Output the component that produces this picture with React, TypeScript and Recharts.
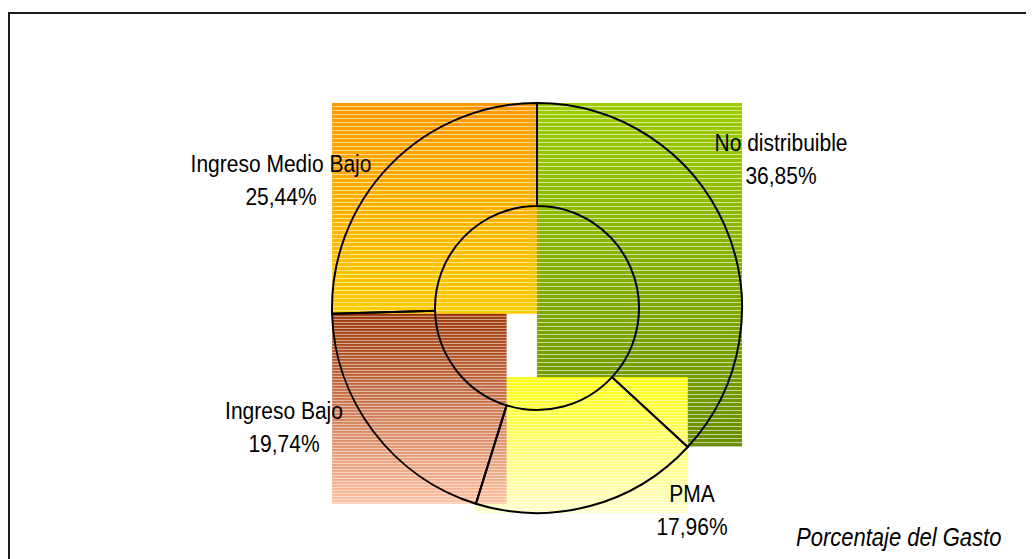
import { PieChart, Pie, Cell } from 'recharts';

const categorias = ['No distribuible', 'PMA', 'Ingreso Bajo', 'Ingreso Medio Bajo'];
const porcentajes = [36.85, 17.96, 19.74, 25.44];

const data = categorias.map((name, i) => ({ name, value: porcentajes[i] }));

// top -> bottom gradient of each slice's striped box
const GRADIENTS = [
  ['#9dcc00', '#6a8f00'],
  ['#ffff00', '#ffffc8'],
  ['#983000', '#ffbe9c'],
  ['#ff9900', '#ffcc00'],
];
const STRIPE_STEP = [4, 3, 3, 4];

// label placement relative to the pie centre (first line baseline)
const LABEL_OFFSETS = [
  [244, -157],
  [155, 194],
  [-253, 111],
  [-256, -136],
];
const LINE_GAP = 33;
const FONT = "'Liberation Sans', Arial, sans-serif";
const TEXT_STRETCH = 1.13;

const W = 1026;
const H = 551;
const CX = 529;
const CY = 300;

const rad = (a: number) => (a * Math.PI) / 180;

function sectorBox(cx: number, cy: number, ri: number, ro: number, a0: number, a1: number) {
  const lo = Math.min(a0, a1);
  const hi = Math.max(a0, a1);
  const pts: [number, number][] = [];
  for (const r of [ri, ro]) {
    for (const a of [lo, hi]) pts.push([cx + r * Math.cos(rad(a)), cy - r * Math.sin(rad(a))]);
  }
  for (let k = Math.ceil(lo / 90) * 90; k <= hi; k += 90) {
    pts.push([cx + ro * Math.cos(rad(k)), cy - ro * Math.sin(rad(k))]);
  }
  const xs = pts.map((p) => p[0]);
  const ys = pts.map((p) => p[1]);
  return { x: Math.min(...xs), y: Math.min(...ys), w: Math.max(...xs) - Math.min(...xs), h: Math.max(...ys) - Math.min(...ys) };
}

// old-style fill: the slice's bounding box, horizontally striped
const StripedBox = (props: any, idx?: number) => {
  const i = typeof props.index === 'number' ? props.index : idx ?? 0;
  const { cx, cy, innerRadius, outerRadius, startAngle, endAngle } = props;
  const b = sectorBox(cx, cy, innerRadius, outerRadius, startAngle, endAngle);
  const [c0, c1] = GRADIENTS[i];
  const step = STRIPE_STEP[i];
  return (
    <g>
      <defs>
        <linearGradient id={`grad-${i}`} x1="0" y1="0" x2="0" y2="1">
          <stop offset="0%" stopColor={c0} />
          <stop offset="100%" stopColor={c1} />
        </linearGradient>
        <pattern id={`stripe-${i}`} width={8} height={step} patternUnits="userSpaceOnUse" y={b.y}>
          <rect x={0} y={step - 1} width={8} height={1} fill="#fff" fillOpacity={0.6} />
        </pattern>
      </defs>
      <rect x={b.x} y={b.y} width={b.w} height={b.h} fill={`url(#grad-${i})`} />
      <rect x={b.x} y={b.y} width={b.w} height={b.h} fill={`url(#stripe-${i})`} />
    </g>
  );
};

const renderLabel = (props: any) => {
  const { cx, cy, index, value } = props;
  const [dx, dy] = LABEL_OFFSETS[index];
  return (
    <g transform={`translate(${cx + dx},${cy + dy}) scale(1,${TEXT_STRETCH})`}>
      <text x={0} y={0} textAnchor="middle" fill="#000" fontSize={21} fontFamily={FONT}>
        <tspan x={0} y={0}>{categorias[index]}</tspan>
        <tspan x={0} y={LINE_GAP / TEXT_STRETCH}>{`${value.toFixed(2).replace('.', ',')}%`}</tspan>
      </text>
    </g>
  );
};

export default function App() {
  return (
    <div style={{ position: 'relative', width: W, height: H }}>
      <PieChart width={W} height={H} margin={{ top: 0, right: 0, bottom: 0, left: 0 }}>
        <Pie
          data={data}
          dataKey="value"
          nameKey="name"
          cx={CX}
          cy={CY}
          innerRadius={102}
          outerRadius={205}
          startAngle={90}
          endAngle={-270}
          stroke="none"
          shape={StripedBox}
          isAnimationActive={false}
        />
        <Pie
          data={data}
          dataKey="value"
          nameKey="name"
          cx={CX}
          cy={CY}
          innerRadius={102}
          outerRadius={205}
          startAngle={90}
          endAngle={-270}
          stroke="#000"
          strokeWidth={2}
          label={renderLabel}
          labelLine={false}
          isAnimationActive={false}
        >
          {data.map((d) => (
            <Cell key={d.name} fill="none" stroke="#000" strokeWidth={2} />
          ))}
        </Pie>
      </PieChart>
      <svg width={W} height={H} style={{ position: 'absolute', left: 0, top: 0, pointerEvents: 'none' }}>
        <path d={`M1,${H} L1,5 L${W},5`} fill="none" stroke="#1a1a1a" strokeWidth={2} />
        <g transform={`translate(788,538) scale(1,${TEXT_STRETCH})`}>
          <text x={0} y={0} fontSize={22} fontStyle="italic" fontFamily={FONT} fill="#000">
            Porcentaje del Gasto
          </text>
        </g>
      </svg>
    </div>
  );
}
